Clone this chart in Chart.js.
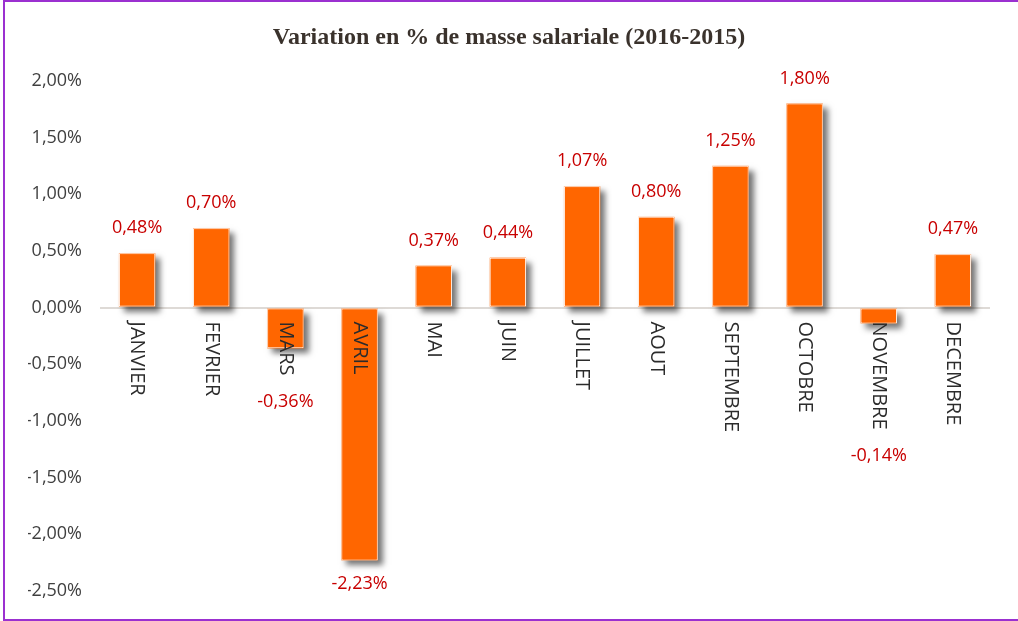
<!DOCTYPE html>
<html>
<head>
<meta charset="utf-8">
<script src="https://cdn.jsdelivr.net/npm/chart.js@4/dist/chart.umd.min.js"></script>
<style>
  html, body { margin: 0; padding: 0; background: #fff; }
  .chart-wrap { position: relative; width: 1018px; height: 621px; overflow: hidden; }
  .frame { position: absolute; left: 3px; top: 0; width: 1020px; height: 617px; border: 2px solid #9b30d0; border-right: none; pointer-events: none; }
</style>
</head>
<body>
<div class="chart-wrap">
  <canvas id="salaryChart" width="1018" height="621"></canvas>
  <div class="frame"></div>
</div>
<script>
const months = ['JANVIER', 'FEVRIER', 'MARS', 'AVRIL', 'MAI', 'JUIN', 'JUILLET', 'AOUT', 'SEPTEMBRE', 'OCTOBRE', 'NOVEMBRE', 'DECEMBRE'];
const variation = [0.48, 0.70, -0.36, -2.23, 0.37, 0.44, 1.07, 0.80, 1.25, 1.80, -0.14, 0.47];
const yMin = -2.5;
const yMax = 2.0;
const yStep = 0.5;

const fmt = v => v.toFixed(2).replace('.', ',') + '%';

// shadow under the bars + month names and value labels
const barExtras = {
    id: 'barExtras',
    beforeDatasetsDraw(chart) {
        const ctx = chart.ctx;
        const meta = chart.getDatasetMeta(0);
        ctx.save();
        ctx.shadowColor = 'rgba(0,0,0,0.55)';
        ctx.shadowBlur = 6;
        ctx.shadowOffsetX = 5;
        ctx.shadowOffsetY = 5;
        ctx.fillStyle = '#ff6600';
        meta.data.forEach(bar => {
            const p = bar.getProps(['x', 'y', 'base', 'width'], true);
            const top = Math.min(p.y, p.base);
            ctx.fillRect(p.x - p.width / 2, top, p.width, Math.abs(p.base - p.y));
        });
        ctx.restore();
    },
    afterDatasetsDraw(chart) {
        const ctx = chart.ctx;
        const x = chart.scales.x;
        const y = chart.scales.y;
        const zero = y.getPixelForValue(0);
        const meta = chart.getDatasetMeta(0);

        ctx.save();
        ctx.font = '20px "Open Sans"';
        ctx.fillStyle = '#2b2b2b';
        const ends = [];
        months.forEach((m, i) => {
            const px = x.getPixelForValue(i);
            ctx.save();
            ctx.translate(px, zero + 14);
            ctx.rotate(Math.PI / 2);
            ctx.textAlign = 'left';
            ctx.textBaseline = 'middle';
            ctx.fillText(m, 0, 0);
            ends.push(zero + 14 + ctx.measureText(m).width);
            ctx.restore();
        });

        ctx.font = '18px "Open Sans"';
        ctx.fillStyle = '#c80000';
        ctx.textAlign = 'center';
        ctx.textBaseline = 'middle';
        meta.data.forEach((bar, i) => {
            const v = variation[i];
            let ly;
            if (v >= 0) {
                ly = bar.y - 25;
            } else {
                ly = Math.max(bar.y + 23, ends[i] + 26);
            }
            ctx.fillText(fmt(v), bar.x, ly);
        });
        ctx.restore();
    }
};

const ctx = document.getElementById('salaryChart').getContext('2d');
new Chart(ctx, {
    type: 'bar',
    data: {
        labels: months,
        datasets: [{
            data: variation,
            backgroundColor: '#ff6600',
            borderColor: '#ffffff',
            borderWidth: 1,
            borderSkipped: false,
            barPercentage: 0.49,
            categoryPercentage: 1.0
        }]
    },
    options: {
        responsive: false,
        animation: false,
        layout: { padding: { top: 0, right: 28, bottom: 30, left: 28 } },
        plugins: {
            legend: { display: false },
            tooltip: { enabled: false },
            title: {
                display: true,
                text: 'Variation en % de masse salariale (2016-2015)',
                color: '#3a322c',
                font: { family: '"Liberation Serif", serif', size: 24, weight: 'bold' },
                padding: { top: 23, bottom: 29 }
            }
        },
        scales: {
            x: { display: false },
            y: {
                min: yMin,
                max: yMax,
                afterFit(scale) { scale.width = 72; },
                ticks: {
                    stepSize: yStep,
                    padding: 18,
                    color: '#404040',
                    font: { family: '"Open Sans"', size: 18 },
                    callback: v => fmt(v)
                },
                grid: {
                    drawTicks: false,
                    color: c => (c.tick && c.tick.value === 0 ? '#dedad6' : 'rgba(0,0,0,0)'),
                    lineWidth: 2
                },
                border: { display: false }
            }
        }
    },
    plugins: [barExtras]
});
</script>
</body>
</html>
